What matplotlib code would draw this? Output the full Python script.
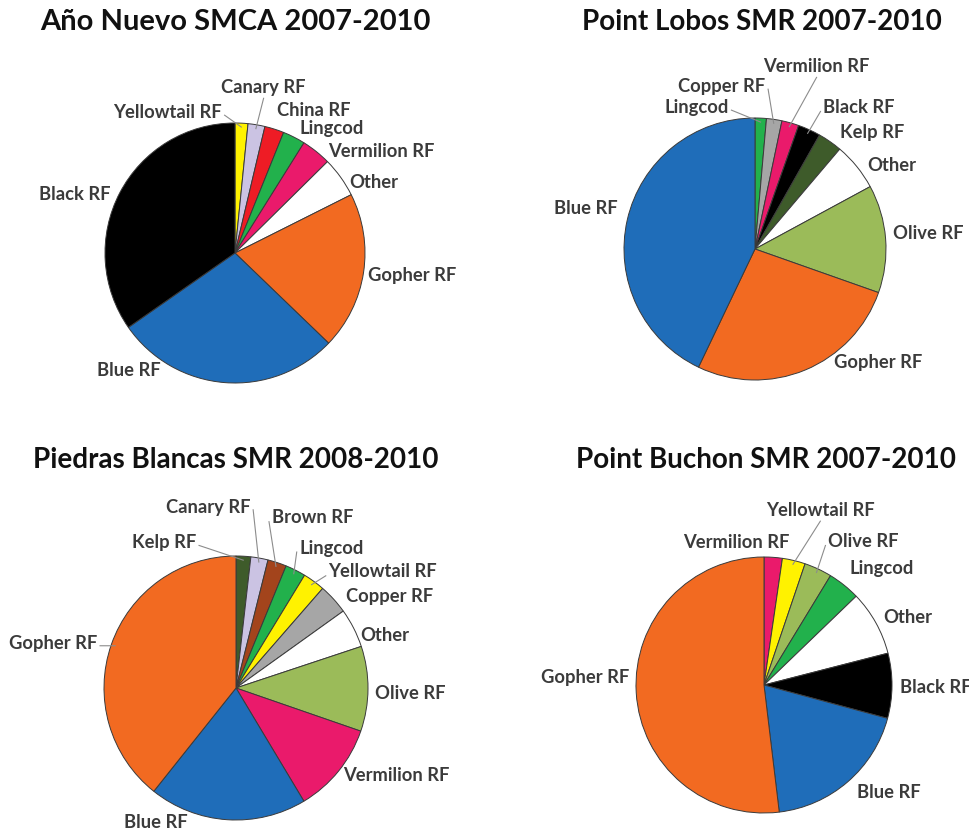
"""
Species composition pies for four MPAs (matplotlib)
"""

import numpy as np
import matplotlib
matplotlib.use("Agg")
import matplotlib.pyplot as plt

plt.rcParams["font.family"] = ["Lato", "DejaVu Sans"]

# ---- data (percent of catch, clockwise from 12 o'clock) ----
ano_names = ["Yellowtail RF", "Canary RF", "China RF", "Lingcod", "Vermilion RF",
             "Other", "Gopher RF", "Blue RF", "Black RF"]
ano_values = [1.6, 2.1, 2.4, 2.8, 3.7, 5.0, 19.6, 28.1, 34.7]

lobos_names = ["Lingcod", "Copper RF", "Vermilion RF", "Black RF", "Kelp RF",
               "Other", "Olive RF", "Gopher RF", "Blue RF"]
lobos_values = [1.4, 1.9, 2.1, 2.8, 3.0, 5.9, 13.3, 26.7, 42.9]

piedras_names = ["Kelp RF", "Canary RF", "Brown RF", "Lingcod", "Yellowtail RF",
                 "Copper RF", "Other", "Olive RF", "Vermilion RF", "Blue RF", "Gopher RF"]
piedras_values = [1.8, 2.1, 2.3, 2.5, 2.7, 3.7, 4.8, 10.4, 11.1, 19.3, 39.3]

buchon_names = ["Vermilion RF", "Yellowtail RF", "Olive RF", "Lingcod", "Other",
                "Black RF", "Blue RF", "Gopher RF"]
buchon_values = [2.3, 2.9, 3.5, 4.1, 8.2, 8.2, 18.9, 51.9]

titles = ["Año Nuevo SMCA 2007-2010", "Point Lobos SMR 2007-2010",
          "Piedras Blancas SMR 2008-2010", "Point Buchon SMR 2007-2010"]

species_colors = {
    "Black RF": "#000000",
    "Blue RF": "#1F6DB9",
    "Gopher RF": "#F26A21",
    "Other": "#FFFFFF",
    "Vermilion RF": "#EA1A6B",
    "Lingcod": "#22B14C",
    "China RF": "#EE1C25",
    "Canary RF": "#CBC3E3",
    "Yellowtail RF": "#FFF200",
    "Olive RF": "#9BBB59",
    "Kelp RF": "#3E5B2A",
    "Copper RF": "#A6A6A6",
    "Brown RF": "#A3441C",
}

# ---- layout: pie centre / radius in pixels, label spots in radius units ----
W, H = 970, 830
pies = [
    dict(names=ano_names, values=ano_values, c=(235, 253), r=130, title_xy=(235, 22),
         labels=[(-0.10, 1.08, "right", True), (0.22, 1.27, "center", True),
                 (0.32, 1.10, "left", False), (0.50, 0.96, "left", False),
                 (0.72, 0.78, "left", False), (0.88, 0.54, "left", False),
                 (1.02, -0.17, "left", False), (-0.82, -0.90, "center", False),
                 (-0.96, 0.45, "right", False)]),
    dict(names=lobos_names, values=lobos_values, c=(755, 249), r=131, title_xy=(762, 22),
         labels=[(-0.20, 1.08, "right", True), (0.08, 1.24, "right", True),
                 (0.47, 1.39, "center", True), (0.52, 1.08, "left", True),
                 (0.65, 0.89, "left", False), (0.86, 0.64, "left", False),
                 (1.05, 0.12, "left", False), (0.60, -0.87, "left", False),
                 (-1.05, 0.31, "right", False)]),
    dict(names=piedras_names, values=piedras_values, c=(236, 688), r=132, title_xy=(236, 460),
         labels=[(-0.30, 1.10, "right", True), (0.11, 1.37, "right", True),
                 (0.27, 1.29, "left", True), (0.48, 1.06, "left", True),
                 (0.70, 0.88, "left", True), (0.83, 0.69, "left", False),
                 (0.94, 0.40, "left", False), (1.05, -0.04, "left", False),
                 (0.81, -0.66, "left", False), (-0.61, -1.02, "center", False),
                 (-1.05, 0.34, "right", True)]),
    dict(names=buchon_names, values=buchon_values, c=(764, 685), r=128, title_xy=(766, 460),
         labels=[(0.20, 1.11, "right", False), (0.44, 1.36, "center", True),
                 (0.50, 1.12, "left", True), (0.67, 0.91, "left", False),
                 (0.93, 0.53, "left", False), (1.06, -0.02, "left", False),
                 (0.73, -0.84, "left", False), (-1.05, 0.06, "right", False)]),
]

fig = plt.figure(figsize=(W / 100, H / 100), dpi=100)

for i, (p, title) in enumerate(zip(pies, titles)):
    cx, cy = p["c"]
    r = p["r"]
    ax = fig.add_axes([(cx - r) / W, (H - cy - r) / H, 2 * r / W, 2 * r / H])
    colors = [species_colors[n] for n in p["names"]]
    wedges, _ = ax.pie(p["values"], colors=colors, startangle=90, counterclock=False,
                       radius=1.0, wedgeprops=dict(edgecolor="#3a3a3a", linewidth=0.7))
    ax.set_xlim(-1, 1)
    ax.set_ylim(-1, 1)
    ax.set_aspect("equal")
    ax.axis("off")

    for w, name, (lx, ly, ha, leader) in zip(wedges, p["names"], p["labels"]):
        ax.text(lx, ly, name, ha=ha, va="center", fontsize=13.2, fontweight="bold",
                color="#3b3b3b", clip_on=False)
        if leader:
            mid = np.deg2rad((w.theta1 + w.theta2) / 2)
            ex, ey = 0.97 * np.cos(mid), 0.97 * np.sin(mid)
            if ha == "right":
                sx, sy = lx + 0.02, ly - 0.02
            elif ha == "left":
                sx, sy = lx - 0.02, ly - 0.03
            else:
                sx, sy = lx, ly - 0.08
            ax.plot([sx, ex], [sy, ey], color="#8c8c8c", lw=0.8, clip_on=False)

    tx, ty = p["title_xy"]
    fig.text(tx / W, 1 - ty / H, title, ha="center", va="center",
             fontsize=21 if i == 0 else 20, fontweight="bold", color="#111111")

fig.savefig("out.png", dpi=100)
